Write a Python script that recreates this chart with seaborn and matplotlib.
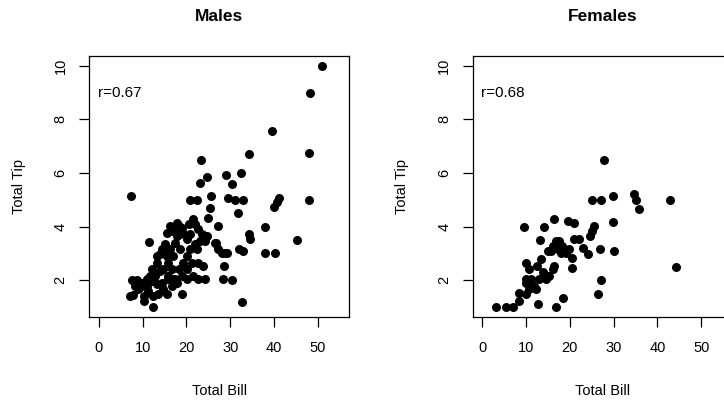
import numpy as np
import pandas as pd
import matplotlib
matplotlib.use("Agg")
import matplotlib.pyplot as plt
import seaborn as sns

# valeurs (total bill / total tip)
male_bill = [51.0, 48.3, 39.5, 48.0, 34.4, 23.4, 24.7, 23.1, 29.0, 30.4, 32.5, 7.25,
             48.0, 20.8, 22.4, 25.6, 29.6, 31.1, 32.9, 41.1, 40.6, 40.0, 25.4, 25.0,
             31.7, 21.6, 38.0, 27.2, 34.4, 34.6, 45.3, 31.9, 32.9, 38.0, 40.3, 32.7,
             12.4, 11.5, 28.9, 28.5, 28.3, 30.4, 23.7, 24.3, 22.7, 20.1, 26.8, 28.1,
             29.2, 26.6, 27.3,
             7.5, 8.6, 9.8, 10.9, 12.1, 7.9, 9.0, 10.2, 11.3, 10.2, 12.4, 13.6, 14.7,
             15.5, 16.6, 17.8, 18.9, 14.4, 15.9, 17.0, 13.2, 10.9, 9.4, 8.2, 7.1,
             12.1, 13.2, 14.0, 14.4, 15.1, 12.8, 14.7, 15.9, 17.0, 16.3, 17.4, 18.5,
             19.3, 18.2, 18.9, 20.1, 20.8, 22.0, 22.4, 23.1, 24.3, 21.2, 22.7, 15.9,
             17.4, 14.0, 11.7, 15.5, 17.8, 18.5, 20.1, 13.2, 14.7, 16.6, 20.1, 21.6,
             16.3, 17.8, 16.6, 18.9, 20.5, 22.0, 22.7, 23.5, 20.8, 19.3, 17.4, 15.5,
             24.7, 18.2]
male_tip = [10.0, 9.0, 7.55, 6.74, 6.7, 6.5, 5.85, 5.64, 5.91, 5.6, 6.0, 5.15,
            5.0, 5.0, 5.0, 5.16, 5.05, 5.0, 5.0, 5.05, 4.9, 4.73, 4.7, 4.33,
            4.5, 4.27, 3.98, 4.02, 3.71, 3.55, 3.5, 3.18, 3.09, 3.0, 3.0, 1.2,
            1.0, 3.43, 3.03, 2.53, 2.04, 2.01, 2.53, 2.04, 2.04, 2.04, 3.4, 3.03,
            3.0, 3.4, 3.15,
            2.0, 2.0, 1.91, 2.04, 1.98, 1.44, 1.66, 1.42, 1.6, 1.23, 1.42, 1.48, 1.66,
            1.48, 1.79, 1.91, 1.48, 1.91, 2.04, 2.04, 1.85, 1.79, 1.73, 1.79, 1.42,
            2.41, 2.66, 2.97, 3.15, 3.34, 2.16, 2.41, 2.66, 2.91, 3.15, 3.4, 3.15,
            2.66, 2.41, 2.16, 2.91, 3.15, 3.34, 3.15, 3.46, 3.46, 2.66, 2.66, 2.16,
            2.04, 2.35, 2.16, 2.91, 3.65, 3.71, 3.53, 2.9, 3.15, 2.41, 2.41, 2.16,
            4.02, 4.15, 3.84, 3.96, 4.08, 4.08, 3.9, 3.71, 3.71, 3.77, 3.84, 3.77,
            3.65, 4.02]

female_bill = [27.9, 25.1, 27.1, 29.8, 34.6, 35.2, 35.7, 42.8, 44.3, 9.6, 14.1, 16.3,
               19.5, 21.0, 29.8, 25.6, 25.1, 24.7, 13.1, 26.8, 30.0, 27.1, 26.4, 18.5,
               16.8, 12.8, 3.1, 5.4, 6.9, 8.3, 8.4,
               9.9, 10.7, 9.9, 11.1, 10.7, 11.9, 13.0, 12.6, 13.4, 14.5, 15.3, 16.1,
               16.4, 13.8, 14.9, 16.1, 16.8, 17.6, 18.3, 18.0, 19.1, 19.9, 20.6, 20.6,
               21.0, 22.2, 22.9, 24.1, 17.2, 15.7, 12.2, 9.9, 11.1, 14.1, 9.9]
female_tip = [6.5, 5.0, 5.0, 5.14, 5.2, 5.0, 4.64, 5.0, 2.5, 4.0, 4.0, 4.27,
              4.2, 4.12, 4.18, 4.02, 3.84, 3.65, 3.5, 3.15, 3.09, 2.0, 1.5, 1.35,
              1.0, 1.1, 1.0, 1.0, 1.0, 1.23, 1.54,
              2.66, 2.41, 2.04, 1.91, 1.66, 1.79, 2.04, 2.53, 2.78, 2.04, 2.16, 2.41,
              2.53, 2.29, 3.09, 3.28, 3.46, 3.46, 3.28, 3.03, 3.03, 3.15, 2.84, 2.47,
              3.53, 3.53, 3.22, 2.97, 3.15, 3.09, 1.66, 1.91, 2.04, 2.16, 1.48]

panels = ["Males", "Females"]
r_labels = ["r=0.67", "r=0.68"]

males = pd.DataFrame({"total_bill": male_bill, "tip": male_tip})
females = pd.DataFrame({"total_bill": female_bill, "tip": female_tip})

sns.set_style("ticks")
plt.rcParams["font.family"] = ["Liberation Sans", "DejaVu Sans"]
plt.rcParams["text.color"] = "black"
plt.rcParams["axes.labelcolor"] = "black"

fig = plt.figure(figsize=(7.24, 4.01), dpi=100)
ax1 = fig.add_axes([0.1233, 0.2102, 0.3591, 0.650])
ax2 = fig.add_axes([0.6529, 0.2102, 0.3591, 0.650])

for ax, df, title, rlab in zip([ax1, ax2], [males, females], panels, r_labels):
    sns.scatterplot(data=df, x="total_bill", y="tip", ax=ax, color="black",
                    s=42, edgecolor="black", linewidth=0, legend=False)
    ax.set_xlim(-2.2, 57.2)
    ax.set_ylim(0.64, 10.36)
    ax.set_xticks([0, 10, 20, 30, 40, 50])
    ax.set_yticks([2, 4, 6, 8, 10])
    for sp in ax.spines.values():
        sp.set_visible(True)
        sp.set_color("black")
        sp.set_linewidth(0.9)
    ax.tick_params(axis="both", direction="out", length=7.5, width=0.9,
                   color="black", labelsize=10.5, labelcolor="black")
    ax.tick_params(axis="x", pad=10)
    ax.tick_params(axis="y", pad=8)
    for lab in ax.get_yticklabels():
        lab.set_rotation(90)
        lab.set_va("center")
    ax.set_xlabel("Total Bill", fontsize=10.5, labelpad=21)
    ax.set_ylabel("Total Tip", fontsize=10.5, labelpad=20)
    ax.set_title(title, fontsize=12.5, fontweight="bold", pad=25)
    ax.text(-0.3, 9.0, rlab, fontsize=11, ha="left", va="center")

fig.savefig("out.png", dpi=100)
